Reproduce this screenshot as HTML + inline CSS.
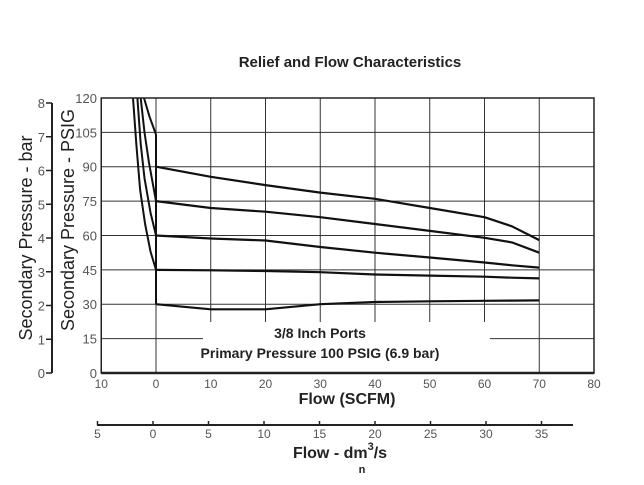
<!DOCTYPE html>
<html><head><meta charset="utf-8"><style>
body{margin:0;background:#fff;}
svg{display:block;font-family:"Liberation Sans",Arial,sans-serif;}
</style></head><body>
<svg width="644" height="485" viewBox="0 0 644 485" id="chart">
<text x="350" y="67" text-anchor="middle" font-size="15" font-weight="bold" fill="#222">Relief and Flow Characteristics</text>
<g id="grid"></g>
<rect x="203" y="322" width="287" height="50" fill="#fff"/>
<g id="series"></g>
<g id="axes"></g>
<text x="320" y="338" text-anchor="middle" font-size="14" font-weight="bold" fill="#222">3/8 Inch Ports</text>
<text x="320" y="358" text-anchor="middle" font-size="14" font-weight="bold" fill="#222">Primary Pressure 100 PSIG (6.9 bar)</text>
<text transform="translate(32,238) rotate(-90)" text-anchor="middle" font-size="18" fill="#222">Secondary Pressure - bar</text>
<text transform="translate(74,220) rotate(-90)" text-anchor="middle" font-size="18" fill="#222">Secondary Pressure - PSIG</text>
<text x="347" y="404" text-anchor="middle" font-size="16" font-weight="bold" fill="#222">Flow (SCFM)</text>
<text x="340" y="458" text-anchor="middle" font-size="16" font-weight="bold" fill="#222">Flow - dm<tspan font-size="11" dy="-8">3</tspan><tspan dy="8">/s</tspan></text>
<text x="362" y="473" text-anchor="middle" font-size="11" font-weight="bold" fill="#222">n</text>
</svg>
<script>
const flowTicks=[-10,0,10,20,30,40,50,60,70,80];
const psiTicks=[0,15,30,45,60,75,90,105,120];
const barTicks=[0,1,2,3,4,5,6,7,8];
const dmTicks=[-5,0,5,10,15,20,25,30,35];
const flowPts=[0,10,20,30,40,50,60,65,70];
const s90=[90,85.6,82,78.7,76,72,68,64,58];
const s75=[75,72,70.4,68,65,62,59,57,52.5];
const s60=[60,58.7,57.8,55,52.5,50.4,48.2,47,46];
const s45=[45,44.8,44.5,44,43,42.5,42,41.6,41.3];
const s30=[30,27.8,27.8,30,31,31.3,31.5,31.6,31.7];
const reliefA=[[-4.2,120],[-3.6,100],[-2.9,80],[-2,65],[-1,53],[0,45]];
const reliefB=[[-3.4,120],[-2.8,100],[-2.1,85],[-1,70],[0,60]];
const reliefC=[[-2.8,120],[-2.1,105],[-1.3,92],[0,75]];
const reliefD=[[-2.2,120],[-1.2,112],[-0.3,106],[0,104],[0,30]];
const X=v=>156+v*5.475, Y=v=>373-v*2.2917;
const BY=v=>373-v*33.75, DX=v=>153+v*11.1;
const ns="http://www.w3.org/2000/svg";
function mk(tag,attrs,parent){const e=document.createElementNS(ns,tag);for(const k in attrs)e.setAttribute(k,attrs[k]);parent.appendChild(e);return e;}
const grid=document.getElementById('grid'),axes=document.getElementById('axes'),ser=document.getElementById('series');
flowTicks.forEach(t=>{
 const x=X(t);
 if(t>-10&&t<80){const l=mk('line',{x1:x,x2:x,y1:Y(120),y2:Y(0),stroke:'#333','stroke-width':1},grid);
 
 }
 const tx=mk('text',{x:x,y:388,'text-anchor':'middle','font-size':12,fill:'#555'},axes);
 tx.textContent=Math.abs(t);
 
 
});
psiTicks.forEach(t=>{
 const y=Y(t);
 if(t>0&&t<120){const l=mk('line',{x1:X(-10),x2:X(80),y1:y,y2:y,stroke:'#333','stroke-width':1},grid);
 
 }
 const tx=mk('text',{x:97,y:y+5,'text-anchor':'end','font-size':13,fill:'#555'},axes);
 tx.textContent=t;
 
 
});
const fr=mk('rect',{x:X(-10),y:Y(120),width:X(80)-X(-10),height:Y(0)-Y(120),fill:'none',stroke:'#222','stroke-width':1.5},axes);


const bl=mk('line',{x1:X(-10),x2:X(80),y1:Y(0),y2:Y(0),stroke:'#222','stroke-width':2.5},axes);


const ba=mk('line',{x1:52,x2:52,y1:BY(8),y2:BY(0),stroke:'#222','stroke-width':2},axes);


barTicks.forEach(t=>{
 const y=BY(t);
 const l=mk('line',{x1:46,x2:52,y1:y,y2:y,stroke:'#222','stroke-width':1.5},axes);
 
 
 const tx=mk('text',{x:45,y:y+5,'text-anchor':'end','font-size':13,fill:'#555'},axes);
 tx.textContent=t;
 
 
});
const da=mk('line',{x1:97,x2:573,y1:425,y2:425,stroke:'#222','stroke-width':2},axes);


dmTicks.forEach(t=>{
 const x=DX(t);
 const l=mk('line',{x1:x,x2:x,y1:421,y2:425,stroke:'#222','stroke-width':1.5},axes);
 
 
 const tx=mk('text',{x:x,y:438,'text-anchor':'middle','font-size':12,fill:'#555'},axes);
 tx.textContent=Math.abs(t);
 
 
});
function path(pts){return pts.map((p,i)=>(i?'L':'M')+X(p[0]).toFixed(1)+','+Y(p[1]).toFixed(1)).join(' ');}
[[s90,'90'],[s75,'75'],[s60,'60'],[s45,'45'],[s30,'30']].forEach(([arr,n])=>{
 const p=mk('path',{d:path(flowPts.map((f,i)=>[f,arr[i]])),fill:'none',stroke:'#111','stroke-width':2.2,'stroke-linejoin':'round'},ser);
 
 
});
[[reliefA,'a'],[reliefB,'b'],[reliefC,'c'],[reliefD,'d']].forEach(([arr,n])=>{
 const p=mk('path',{d:path(arr),fill:'none',stroke:'#111','stroke-width':2,'stroke-linejoin':'round'},ser);
 
 
});
</script>
</body></html>
